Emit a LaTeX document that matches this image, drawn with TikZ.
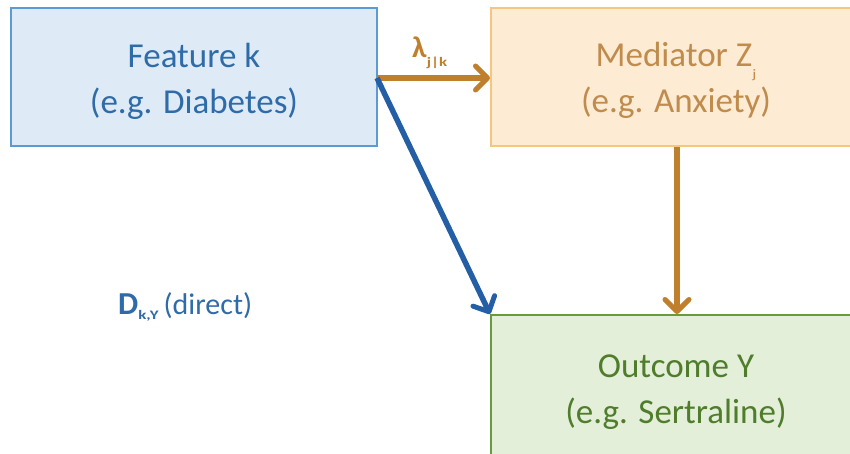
\documentclass[tikz,border=0pt]{standalone}
\usepackage{fontspec}
\setmainfont{Carlito}
\usetikzlibrary{arrows.meta}
\definecolor{fbfill}{HTML}{DEEBF7}
\definecolor{fbdraw}{HTML}{5B9BD5}
\definecolor{fbtext}{HTML}{2E6BA8}
\definecolor{mdfill}{HTML}{FDEBD3}
\definecolor{mddraw}{HTML}{F5C77E}
\definecolor{mdtext}{HTML}{BF8C4E}
\definecolor{ocfill}{HTML}{E3EFD9}
\definecolor{ocdraw}{HTML}{6A9A3E}
\definecolor{octext}{HTML}{4F7D2C}
\definecolor{orarrow}{HTML}{C07F2C}
\definecolor{blarrow}{HTML}{245FA6}
\newcommand{\lowsub}[3]{\raisebox{-#1}{\scalebox{1.3}[1]{\fontsize{#2}{#2}\selectfont #3}}}
\tikzset{
  boxnode/.style={draw, line width=2pt, inner sep=0pt},
  boxtext/.style={align=center, inner sep=0pt, font=\fontsize{35}{46}\selectfont},
  arr/.style={line width=5.5pt, -{Straight Barb[length=12pt,width=24pt,line width=5pt,round]}},
}
\begin{document}
\begin{tikzpicture}[x=1pt,y=-1pt]
\useasboundingbox (0,0) rectangle (850,454);
\node[boxnode, fill=fbfill, draw=fbdraw, minimum width=366pt, minimum height=138pt] (feat) at (194,77) {};
\node[boxnode, fill=mdfill, draw=mddraw, minimum width=370pt, minimum height=138pt] (med) at (676,77) {};
\node[boxnode, fill=ocfill, draw=ocdraw, minimum width=370pt, minimum height=140pt] (out) at (676,385) {};
\node[boxtext, text=fbtext] (featt) at ([yshift=-4pt]feat.center) {Feature k\\(e.g. Diabetes)};
\node[boxtext, text=mdtext] (medt) at ([yshift=-3pt]med.center) {Mediator Z\lowsub{12pt}{13}{j}\\(e.g. Anxiety)};
\node[boxtext, text=octext] (outt) at ([yshift=-7pt]out.center) {Outcome Y\\(e.g. Sertraline)};
\coordinate (src) at (377,78);
\draw[arr, draw=orarrow] (src) -- (med.west |- src);
\draw[arr, draw=blarrow] (src) -- (out.north west);
\draw[arr, draw=orarrow] (med.south -| 677,0) -- (out.north -| 677,0);
\node[text=orarrow, font=\fontsize{30}{30}\selectfont\bfseries, anchor=base west, inner sep=0pt] (lab) at (412,58) {λ\lowsub{9pt}{13}{j|k}};
\node[text=fbtext, font=\fontsize{30}{30}\selectfont, anchor=base west, inner sep=0pt] (dlab) at (118,314) {\textbf{\fontsize{32}{32}\selectfont D}\lowsub{5pt}{13}{\bfseries k,Y}\,(direct)};
\end{tikzpicture}
\end{document}
